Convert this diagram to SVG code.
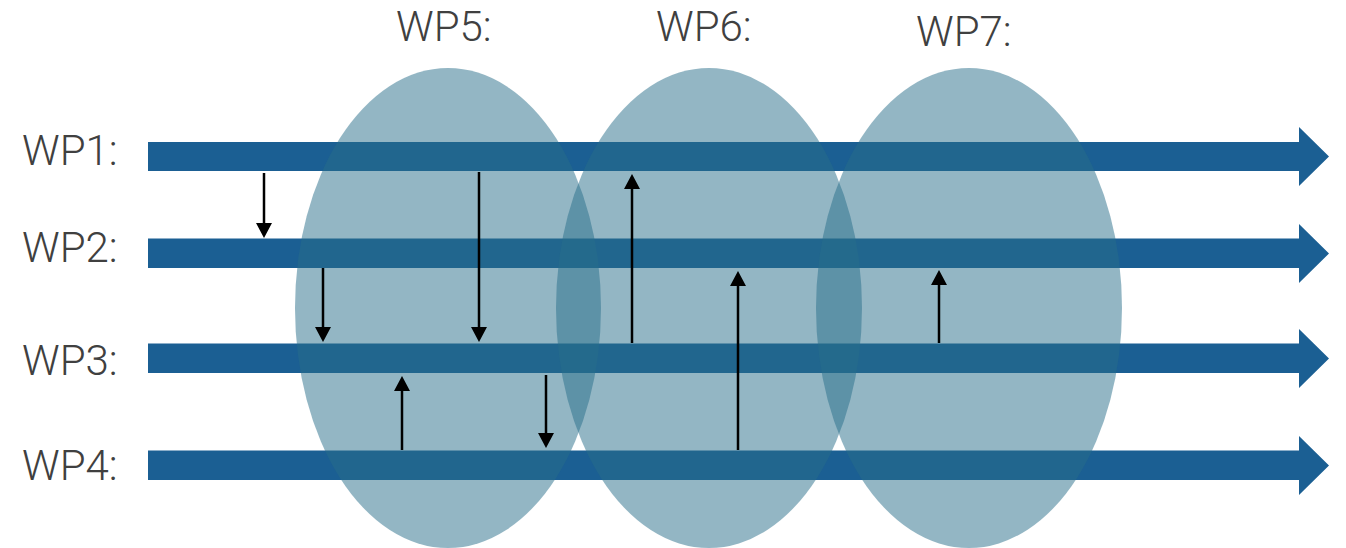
<svg xmlns="http://www.w3.org/2000/svg" width="1346" height="548" viewBox="0 0 1346 548">
<style>
.lbl{font-family:Roboto,"Liberation Sans",sans-serif;font-weight:300;font-size:42px;fill:#404040}
.bar{fill:#1B5F93}
.ell{fill:#286D89;fill-opacity:0.5}
.link{stroke:#000;stroke-width:2.5;fill:none;marker-end:url(#ah)}
</style>
<defs>
<marker id="ah" markerUnits="userSpaceOnUse" markerWidth="16" markerHeight="16" refX="1" refY="8" orient="auto" viewBox="0 0 16 16">
<path d="M0,0 L15,8 L0,16 z" fill="#000"/>
</marker>
</defs>
<rect width="1346" height="548" fill="#fff"/>
<g id="wp1">
<polygon class="bar" points="148,142 1299,142 1299,127 1329,156.5 1299,186 1299,171 148,171"/>
<text class="lbl" x="22" y="165">WP1:</text>
</g>
<g id="wp2">
<polygon class="bar" points="148,238.5 1299,238.5 1299,224 1329,253.5 1299,283 1299,268 148,268"/>
<text class="lbl" x="22" y="262">WP2:</text>
</g>
<g id="wp3">
<polygon class="bar" points="148,343.5 1299,343.5 1299,329 1329,358.5 1299,388 1299,373 148,373"/>
<text class="lbl" x="22" y="375">WP3:</text>
</g>
<g id="wp4">
<polygon class="bar" points="148,450.5 1299,450.5 1299,436 1329,465.5 1299,495 1299,480 148,480"/>
<text class="lbl" x="22" y="480">WP4:</text>
</g>
<g id="wp5">
<ellipse class="ell" cx="448" cy="308" rx="153" ry="240"/>
<text class="lbl" x="396" y="41">WP5:</text>
</g>
<g id="wp6">
<ellipse class="ell" cx="709" cy="308" rx="153" ry="240"/>
<text class="lbl" x="656" y="41">WP6:</text>
</g>
<g id="wp7">
<ellipse class="ell" cx="969" cy="308" rx="153" ry="240"/>
<text class="lbl" x="916" y="46">WP7:</text>
</g>
<g id="connectors">
<line class="link" x1="264" y1="173" x2="264" y2="224"/>
<line class="link" x1="323" y1="268" x2="323" y2="328"/>
<line class="link" x1="479" y1="172" x2="479" y2="328"/>
<line class="link" x1="402" y1="450" x2="402" y2="390"/>
<line class="link" x1="546" y1="375" x2="546" y2="434"/>
<line class="link" x1="632" y1="343" x2="632" y2="188"/>
<line class="link" x1="738" y1="450" x2="738" y2="285"/>
<line class="link" x1="939" y1="343" x2="939" y2="284"/>
</g>
</svg>
